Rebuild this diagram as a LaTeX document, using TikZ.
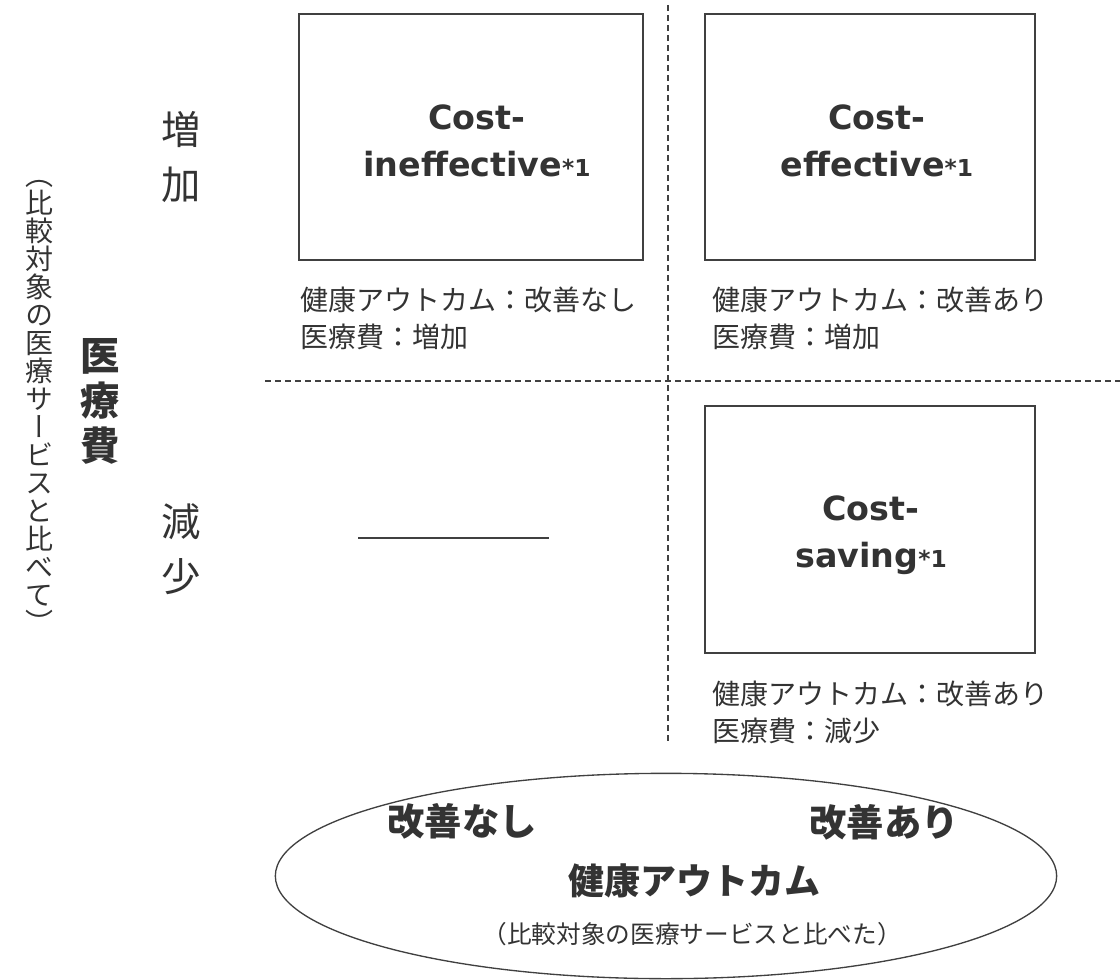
\documentclass[tikz,border=0pt]{standalone}
\usepackage{fontspec}
\setmainfont{DejaVu Sans}
\newfontfamily\jp{Noto Sans CJK JP}
\newfontfamily\jpv[RawFeature=+vert]{Noto Sans CJK JP}
\usetikzlibrary{shapes.geometric}
\definecolor{tx}{HTML}{333333}
\definecolor{ln}{HTML}{404040}
\newcommand{\sone}{{\fontsize{17.5}{17.5}\selectfont *1}}
\begin{document}
\begin{tikzpicture}[x=0.75pt,y=-0.75pt,
  every node/.style={text=tx, inner sep=0pt},
  quad/.style={draw=ln, line width=1pt, minimum width=#1},
  lbl/.style={font=\bfseries\fontsize{25}{35}\selectfont, align=center},
  captext/.style={font=\jp\fontsize{21}{27.75}\selectfont, align=left, anchor=west},
  side/.style={font=\jp\fontsize{29.5}{41}\selectfont, align=center},
  ebold/.style={font=\jp\bfseries\fontsize{#1}{#1}\selectfont},
  dashline/.style={draw=ln, line width=1pt, dash pattern=on 4.5pt off 3pt}]
\useasboundingbox (0,0) rectangle (1120,980);
% boxes
\node[quad=258pt, minimum height=184.5pt] (b1) at (471,137) {};
\node[quad=247.5pt, minimum height=184.5pt] (b2) at (870,137) {};
\node[quad=247.5pt, minimum height=185.25pt] (b3) at (870,529.5) {};
\node[lbl] (t1) at (477,141) {Cost-\\ineffective\sone};
\node[lbl] (t2) at (877,141) {Cost-\\effective\sone};
\node[lbl] (t3) at (871,535) {Cost-\\saving\sone};
% captions
\node[captext] (c1) at (300,318.5) {健康アウトカム：改善なし\\医療費：増加};
\node[captext] (c2) at (712,318.5) {健康アウトカム：改善あり\\医療費：増加};
\node[captext] (c3) at (712,712) {健康アウトカム：改善あり\\医療費：減少};
% dashed axes
\coordinate (vt) at (668,5);
\coordinate (vb) at (668,745);
\coordinate (hl) at (265,381);
\coordinate (hr) at (1120,381);
\draw[dashline] (vt) -- (vb);
\draw[dashline] (hl) -- (hr);
% dash for empty quadrant
\coordinate (sl) at (358,538);
\coordinate (sr) at (549,538);
\draw[ln, line width=1.2pt] (sl) -- (sr);
% side labels
\node[side] (inc) at (181,157) {増\\加};
\node[side] (dec) at (181,549) {減\\少};
\node[font=\jp\bfseries\fontsize{29.5}{33.75}\selectfont, align=center] (cost) at (100,401) {医\\療\\費};
\node[font=\jpv\fontsize{21}{21}\selectfont, align=center] (vcap) at (39,407)
  {（\\比\\較\\対\\象\\の\\医\\療\\サ\\ー\\ビ\\ス\\と\\比\\べ\\て\\）};
% ellipse
\node[ellipse, draw=ln, line width=1pt, minimum width=586pt, minimum height=154pt] (ell) at (666,876) {};
\node[ebold=28] (e1) at (462,821) {改善なし};
\node[ebold=28] (e2) at (884,822) {改善あり};
\node[ebold=27] (e3) at (694,881) {健康アウトカム};
\node[font=\jp\fontsize{18.5}{18.5}\selectfont] (e4) at (692,934) {（比較対象の医療サービスと比べた）};
\end{tikzpicture}
\end{document}
